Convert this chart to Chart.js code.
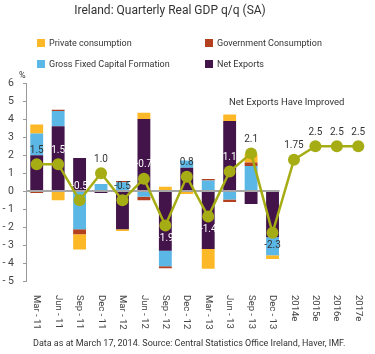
<!DOCTYPE html>
<html>
<head>
<meta charset="utf-8">
<script src="https://cdn.jsdelivr.net/npm/chart.js@4.4.1/dist/chart.umd.min.js"></script>
<style>
  body { margin: 0; background: #fff; font-family: Roboto, sans-serif; color: #333; }
  #wrap { position: relative; width: 375px; height: 354px; overflow: hidden; }
  #chart { position: absolute; left: 0; top: 0; }
  .txt { position: absolute; white-space: nowrap; line-height: 1; }
  .title { left: 0; width: 340px; text-align: center; top: 4px; font-size: 12px; color: #333; }
  .leg { font-size: 9px; color: #333; }
  .leg i { display: inline-block; width: 8px; height: 8px; margin-right: 4px; vertical-align: -1px; }
  .note { font-size: 9px; color: #333; }
</style>
</head>
<body>
<div id="wrap">
  <canvas id="chart" width="375" height="354"></canvas>
  <div class="txt title">Ireland: Quarterly Real GDP q/q (SA)</div>
  <div class="txt leg" style="left:37px; top:39px;"><i style="background:#FDB827"></i>Private consumption</div>
  <div class="txt leg" style="left:205px; top:39px;"><i style="background:#B3401E"></i>Government Consumption</div>
  <div class="txt leg" style="left:37px; top:60px;"><i style="background:#5BB7E5"></i>Gross Fixed Capital Formation</div>
  <div class="txt leg" style="left:205px; top:60px;"><i style="background:#43144A"></i>Net Exports</div>
  <div class="txt note" style="left:19px; top:71px;">%</div>
  <div class="txt note" style="left:229px; top:97px; font-size:9.5px;">Net Exports Have Improved</div>
  <div class="txt note" style="left:33px; top:339px;">Data as at March 17, 2014. Source: Central Statistics Office Ireland, Haver, IMF.</div>
</div>
<script>
// categorias e séries
const categories = ['Mar - 11', 'Jun - 11', 'Sep - 11', 'Dec - 11', 'Mar - 12', 'Jun - 12', 'Sep - 12', 'Dec - 12',
                    'Mar - 13', 'Jun - 13', 'Sep - 13', 'Dec - 13', '2014e', '2015e', '2016e', '2017e'];
const netExports  = [2.0, 3.6, 1.85, -0.1, -2.1, 4.0, -3.3, 1.3, -3.2, 3.9, -0.7, -2.55, null, null, null, null];
const gfcf        = [1.2, 0.85, -2.1, 0.4, 0.5, -0.3, -0.85, 0.4, 0.6, -0.45, 1.4, -1.0, null, null, null, null];
const govCons     = [-0.1, 0.07, -0.28, 0, 0.07, -0.2, -0.12, 0, 0.08, -0.15, 0.2, 0, null, null, null, null];
const privateCons = [0.5, -0.5, -0.85, 0, -0.1, 0.35, 0.25, -0.15, -1.1, 0.35, 0.45, -0.2, null, null, null, null];
const gdp         = [1.5, 1.5, -0.5, 1.0, -0.5, 0.7, -1.9, 0.8, -1.4, 1.1, 2.1, -2.3, 1.75, 2.5, 2.5, 2.5];
const gdpLabels   = ['1.5', '1.5', '-0.5', '1.0', '-0.5', '-0.7', '-1.9', '0.8', '-1.4', '1.1', '2.1', '-2.3', '1.75', '2.5', '2.5', '2.5'];
const yTicks = [-5, -4, -3, -2, -1, 0, 1, 2, 3, 4, 5, 6];

const FONT = 'Roboto, sans-serif';

// linha do zero (só até Dec-13), rótulos do PIB e rótulos do eixo x
const extras = {
    id: 'extras',
    beforeDatasetDraw(chart, args) {
        if (args.index !== 4) return;
        const { ctx } = chart;
        const x = chart.scales.x, y = chart.scales.y;
        const y0 = Math.round(y.getPixelForValue(0));
        ctx.save();
        ctx.strokeStyle = '#a6a6a6';
        ctx.lineWidth = 2;
        ctx.beginPath();
        ctx.moveTo(chart.chartArea.left, y0);
        ctx.lineTo(x.getPixelForValue(11) + 7, y0);
        ctx.stroke();
        ctx.restore();
    },
    afterDatasetsDraw(chart) {
        const { ctx } = chart;
        const x = chart.scales.x, y = chart.scales.y;
        ctx.save();
        ctx.font = '10px ' + FONT;
        ctx.textAlign = 'center';
        ctx.textBaseline = 'middle';
        gdp.forEach((v, i) => {
            const px = x.getPixelForValue(i);
            const py = y.getPixelForValue(v) + (v < -1 ? 13 : -14);
            const ne = netExports[i];
            const lv = y.getValueForPixel(py);
            const inside = ne !== null && ((ne > 0 && lv > 0 && lv < ne) || (ne < 0 && lv < 0 && lv > ne));
            ctx.fillStyle = inside ? '#ffffff' : '#333333';
            ctx.fillText(gdpLabels[i], px, py);
        });
        // rótulos do eixo x girados no sentido horário
        ctx.font = '9.5px ' + FONT;
        ctx.fillStyle = '#444';
        ctx.textAlign = 'left';
        categories.forEach((c, i) => {
            ctx.save();
            ctx.translate(x.getPixelForValue(i), 295);
            ctx.rotate(Math.PI / 2);
            ctx.fillText(c, 0, 0);
            ctx.restore();
        });
        ctx.restore();
    }
};

const barBase = { type: 'bar', stack: 's', order: 1, barPercentage: 0.6, categoryPercentage: 1.0, borderWidth: 0 };

new Chart(document.getElementById('chart'), {
    data: {
        labels: categories,
        datasets: [
            { ...barBase, label: 'Net Exports', data: netExports, backgroundColor: '#43144A' },
            { ...barBase, label: 'Gross Fixed Capital Formation', data: gfcf, backgroundColor: '#5BB7E5' },
            { ...barBase, label: 'Government Consumption', data: govCons, backgroundColor: '#B3401E' },
            { ...barBase, label: 'Private consumption', data: privateCons, backgroundColor: '#FDB827' },
            {
                type: 'line', label: 'GDP', data: gdp, order: 0,
                borderColor: '#A6AC14', backgroundColor: '#A6AC14', borderWidth: 2.5,
                pointRadius: 6, pointBorderWidth: 0, tension: 0
            }
        ]
    },
    options: {
        responsive: false,
        animation: false,
        devicePixelRatio: 1,
        layout: { padding: { top: 83, right: 2, left: 0, bottom: 0 } },
        plugins: { legend: { display: false }, tooltip: { enabled: false } },
        scales: {
            x: {
                stacked: true,
                grid: { display: false },
                border: { display: false },
                ticks: { display: false },
                afterFit(scale) { scale.height = 72.5; }
            },
            y: {
                stacked: true,
                min: -5, max: 6,
                afterBuildTicks(scale) { scale.ticks = yTicks.map(v => ({ value: v })); },
                afterFit(scale) { scale.width = 26; },
                grid: { display: true, drawOnChartArea: false, drawTicks: true, tickLength: 3, color: '#999' },
                border: { display: true, color: '#999', width: 1 },
                ticks: {
                    padding: 9,
                    color: '#444',
                    font: { family: FONT, size: 10.5 },
                    callback: v => v < 0 ? '- ' + Math.abs(v) : String(v)
                }
            }
        }
    },
    plugins: [extras]
});
</script>
</body>
</html>
